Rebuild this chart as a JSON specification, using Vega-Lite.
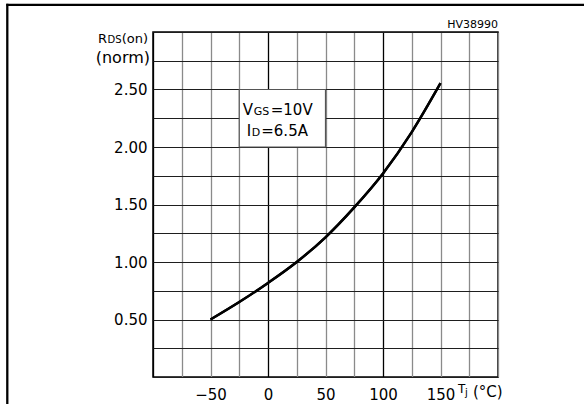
{
  "$schema": "https://vega.github.io/schema/vega-lite/v6.json",
  "width": 345,
  "height": 345,
  "autosize": {"type": "none"},
  "padding": {"left": 153, "top": 32, "right": 86, "bottom": 27},
  "background": "white",
  "config": {
    "view": {"stroke": "#000", "strokeWidth": 1.5},
    "text": {"font": "DejaVu Sans", "color": "#000"}
  },
  "resolve": {"axis": {"x": "independent", "y": "independent"}},
  "datasets": {
    "curve": [
      {"tj": -50, "rds": 0.5},
      {"tj": -25, "rds": 0.652},
      {"tj": 0, "rds": 0.818},
      {"tj": 25, "rds": 1.0},
      {"tj": 50, "rds": 1.215},
      {"tj": 75, "rds": 1.475},
      {"tj": 100, "rds": 1.77},
      {"tj": 125, "rds": 2.13},
      {"tj": 150, "rds": 2.555}
    ]
  },
  "layer": [
    {
      "data": {"name": "curve"},
      "mark": {"type": "line", "color": "#000", "strokeWidth": 2.4, "interpolate": "monotone"},
      "encoding": {
        "x": {
          "field": "tj", "type": "quantitative",
          "scale": {"domain": [-100, 200], "nice": false, "zero": false},
          "axis": {
            "title": null,
            "values": [-100, -75, -50, -25, 0, 25, 50, 75, 100, 125, 150, 175, 200],
            "labelExpr": "datum.value >= -50 && datum.value <= 150 && datum.value % 50 === 0 ? datum.label : ''",
            "grid": true,
            "gridColor": {"condition": {"test": "datum.value === 0 || datum.value === 100 || datum.value === -100", "value": "#000"}, "value": "#8a8a8a"},
            "gridWidth": 1.3,
            "gridOpacity": 1,
            "ticks": false,
            "domain": false,
            "labelFont": "DejaVu Sans",
            "labelFontSize": 15,
            "labelColor": "#000",
            "labelPadding": 10,
            "labelFlush": false,
            "labelOverlap": false
          }
        },
        "y": {
          "field": "rds", "type": "quantitative",
          "scale": {"domain": [0, 3], "nice": false, "zero": false},
          "axis": {
            "title": null,
            "values": [0, 0.25, 0.5, 0.75, 1, 1.25, 1.5, 1.75, 2, 2.25, 2.5, 2.75, 3],
            "labelExpr": "datum.value >= 0.5 && datum.value <= 2.5 && datum.value % 0.5 === 0 ? format(datum.value, '.2f') : ''",
            "grid": true,
            "gridColor": "#1e1e1e",
            "gridWidth": 1.2,
            "gridOpacity": 1,
            "ticks": false,
            "domain": false,
            "labelFont": "DejaVu Sans",
            "labelFontSize": 15,
            "labelColor": "#000",
            "labelPadding": 6,
            "labelFlush": false,
            "labelOverlap": false
          }
        }
      }
    },
    {
      "data": {"values": [{}]},
      "mark": {"type": "rect", "fill": "white", "stroke": "#555", "strokeWidth": 1.2},
      "encoding": {
        "x": {"datum": -25, "type": "quantitative", "scale": {"domain": [-100, 200], "nice": false, "zero": false}, "axis": null},
        "x2": {"datum": 50},
        "y": {"datum": 2.0, "type": "quantitative", "scale": {"domain": [0, 3], "nice": false, "zero": false}, "axis": null},
        "y2": {"datum": 2.5}
      }
    },
    {
      "data": {"name": "curve"},
      "mark": {"type": "line", "color": "#000", "strokeWidth": 2.4, "interpolate": "monotone"},
      "encoding": {
        "x": {"field": "tj", "type": "quantitative", "scale": {"domain": [-100, 200], "nice": false, "zero": false}, "axis": null},
        "y": {"field": "rds", "type": "quantitative", "scale": {"domain": [0, 3], "nice": false, "zero": false}, "axis": null}
      }
    },
    {
      "data": {"values": [{"t": "V"}]},
      "mark": {"type": "text", "align": "left", "baseline": "alphabetic", "dx": 3.5, "dy": 25.5, "fontSize": 15},
      "encoding": {
        "x": {"datum": -25, "type": "quantitative", "scale": {"domain": [-100, 200], "nice": false, "zero": false}, "axis": null},
        "y": {"datum": 2.5, "type": "quantitative", "scale": {"domain": [0, 3], "nice": false, "zero": false}, "axis": null},
        "text": {"field": "t"}
      }
    },
    {
      "data": {"values": [{"t": "GS"}]},
      "mark": {"type": "text", "align": "left", "baseline": "alphabetic", "dx": 14.5, "dy": 25.5, "fontSize": 11},
      "encoding": {
        "x": {"datum": -25, "type": "quantitative", "scale": {"domain": [-100, 200], "nice": false, "zero": false}, "axis": null},
        "y": {"datum": 2.5, "type": "quantitative", "scale": {"domain": [0, 3], "nice": false, "zero": false}, "axis": null},
        "text": {"field": "t"}
      }
    },
    {
      "data": {"values": [{"t": "=10V"}]},
      "mark": {"type": "text", "align": "left", "baseline": "alphabetic", "dx": 31.5, "dy": 25.5, "fontSize": 15},
      "encoding": {
        "x": {"datum": -25, "type": "quantitative", "scale": {"domain": [-100, 200], "nice": false, "zero": false}, "axis": null},
        "y": {"datum": 2.5, "type": "quantitative", "scale": {"domain": [0, 3], "nice": false, "zero": false}, "axis": null},
        "text": {"field": "t"}
      }
    },
    {
      "data": {"values": [{"t": "I"}]},
      "mark": {"type": "text", "align": "left", "baseline": "alphabetic", "dx": 7.5, "dy": 46.5, "fontSize": 15},
      "encoding": {
        "x": {"datum": -25, "type": "quantitative", "scale": {"domain": [-100, 200], "nice": false, "zero": false}, "axis": null},
        "y": {"datum": 2.5, "type": "quantitative", "scale": {"domain": [0, 3], "nice": false, "zero": false}, "axis": null},
        "text": {"field": "t"}
      }
    },
    {
      "data": {"values": [{"t": "D"}]},
      "mark": {"type": "text", "align": "left", "baseline": "alphabetic", "dx": 12.5, "dy": 46.5, "fontSize": 11},
      "encoding": {
        "x": {"datum": -25, "type": "quantitative", "scale": {"domain": [-100, 200], "nice": false, "zero": false}, "axis": null},
        "y": {"datum": 2.5, "type": "quantitative", "scale": {"domain": [0, 3], "nice": false, "zero": false}, "axis": null},
        "text": {"field": "t"}
      }
    },
    {
      "data": {"values": [{"t": "=6.5A"}]},
      "mark": {"type": "text", "align": "left", "baseline": "alphabetic", "dx": 22, "dy": 46.5, "fontSize": 15},
      "encoding": {
        "x": {"datum": -25, "type": "quantitative", "scale": {"domain": [-100, 200], "nice": false, "zero": false}, "axis": null},
        "y": {"datum": 2.5, "type": "quantitative", "scale": {"domain": [0, 3], "nice": false, "zero": false}, "axis": null},
        "text": {"field": "t"}
      }
    },
    {
      "data": {"values": [{"t": "(on)"}]},
      "mark": {"type": "text", "align": "right", "baseline": "alphabetic", "dx": -5, "dy": 11, "fontSize": 13},
      "encoding": {
        "x": {"datum": -100, "type": "quantitative", "scale": {"domain": [-100, 200], "nice": false, "zero": false}, "axis": null},
        "y": {"datum": 3, "type": "quantitative", "scale": {"domain": [0, 3], "nice": false, "zero": false}, "axis": null},
        "text": {"field": "t"}
      }
    },
    {
      "data": {"values": [{"t": "DS"}]},
      "mark": {"type": "text", "align": "right", "baseline": "alphabetic", "dx": -31.5, "dy": 11, "fontSize": 10},
      "encoding": {
        "x": {"datum": -100, "type": "quantitative", "scale": {"domain": [-100, 200], "nice": false, "zero": false}, "axis": null},
        "y": {"datum": 3, "type": "quantitative", "scale": {"domain": [0, 3], "nice": false, "zero": false}, "axis": null},
        "text": {"field": "t"}
      }
    },
    {
      "data": {"values": [{"t": "R"}]},
      "mark": {"type": "text", "align": "right", "baseline": "alphabetic", "dx": -46, "dy": 11, "fontSize": 13},
      "encoding": {
        "x": {"datum": -100, "type": "quantitative", "scale": {"domain": [-100, 200], "nice": false, "zero": false}, "axis": null},
        "y": {"datum": 3, "type": "quantitative", "scale": {"domain": [0, 3], "nice": false, "zero": false}, "axis": null},
        "text": {"field": "t"}
      }
    },
    {
      "data": {"values": [{"t": "(norm)"}]},
      "mark": {"type": "text", "align": "right", "baseline": "alphabetic", "dx": -3, "dy": 31, "fontSize": 16},
      "encoding": {
        "x": {"datum": -100, "type": "quantitative", "scale": {"domain": [-100, 200], "nice": false, "zero": false}, "axis": null},
        "y": {"datum": 3, "type": "quantitative", "scale": {"domain": [0, 3], "nice": false, "zero": false}, "axis": null},
        "text": {"field": "t"}
      }
    },
    {
      "data": {"values": [{"t": "HV38990"}]},
      "mark": {"type": "text", "align": "right", "baseline": "alphabetic", "dx": 0, "dy": -4, "fontSize": 11},
      "encoding": {
        "x": {"datum": 200, "type": "quantitative", "scale": {"domain": [-100, 200], "nice": false, "zero": false}, "axis": null},
        "y": {"datum": 3, "type": "quantitative", "scale": {"domain": [0, 3], "nice": false, "zero": false}, "axis": null},
        "text": {"field": "t"}
      }
    },
    {
      "data": {"values": [{"t": "T"}]},
      "mark": {"type": "text", "align": "left", "baseline": "alphabetic", "dx": 17.5, "dy": 16, "fontSize": 12},
      "encoding": {
        "x": {"datum": 150, "type": "quantitative", "scale": {"domain": [-100, 200], "nice": false, "zero": false}, "axis": null},
        "y": {"datum": 0, "type": "quantitative", "scale": {"domain": [0, 3], "nice": false, "zero": false}, "axis": null},
        "text": {"field": "t"}
      }
    },
    {
      "data": {"values": [{"t": "j"}]},
      "mark": {"type": "text", "align": "left", "baseline": "alphabetic", "dx": 24.5, "dy": 18.5, "fontSize": 10},
      "encoding": {
        "x": {"datum": 150, "type": "quantitative", "scale": {"domain": [-100, 200], "nice": false, "zero": false}, "axis": null},
        "y": {"datum": 0, "type": "quantitative", "scale": {"domain": [0, 3], "nice": false, "zero": false}, "axis": null},
        "text": {"field": "t"}
      }
    },
    {
      "data": {"values": [{"t": "(°C)"}]},
      "mark": {"type": "text", "align": "left", "baseline": "alphabetic", "dx": 32.5, "dy": 20, "fontSize": 15},
      "encoding": {
        "x": {"datum": 150, "type": "quantitative", "scale": {"domain": [-100, 200], "nice": false, "zero": false}, "axis": null},
        "y": {"datum": 0, "type": "quantitative", "scale": {"domain": [0, 3], "nice": false, "zero": false}, "axis": null},
        "text": {"field": "t"}
      }
    },
    {
      "data": {"values": [{}]},
      "mark": {"type": "rule", "color": "#000", "strokeWidth": 2.2},
      "encoding": {
        "x": {"datum": -227.5, "type": "quantitative", "scale": {"domain": [-100, 200], "nice": false, "zero": false}, "axis": null},
        "x2": {"datum": 280},
        "y": {"datum": 3.236, "type": "quantitative", "scale": {"domain": [0, 3], "nice": false, "zero": false}, "axis": null}
      }
    },
    {
      "data": {"values": [{}]},
      "mark": {"type": "rule", "color": "#000", "strokeWidth": 2.3},
      "encoding": {
        "x": {"datum": -226.7, "type": "quantitative", "scale": {"domain": [-100, 200], "nice": false, "zero": false}, "axis": null},
        "y": {"datum": 3.245, "type": "quantitative", "scale": {"domain": [0, 3], "nice": false, "zero": false}, "axis": null},
        "y2": {"datum": -0.26}
      }
    }
  ]
}
